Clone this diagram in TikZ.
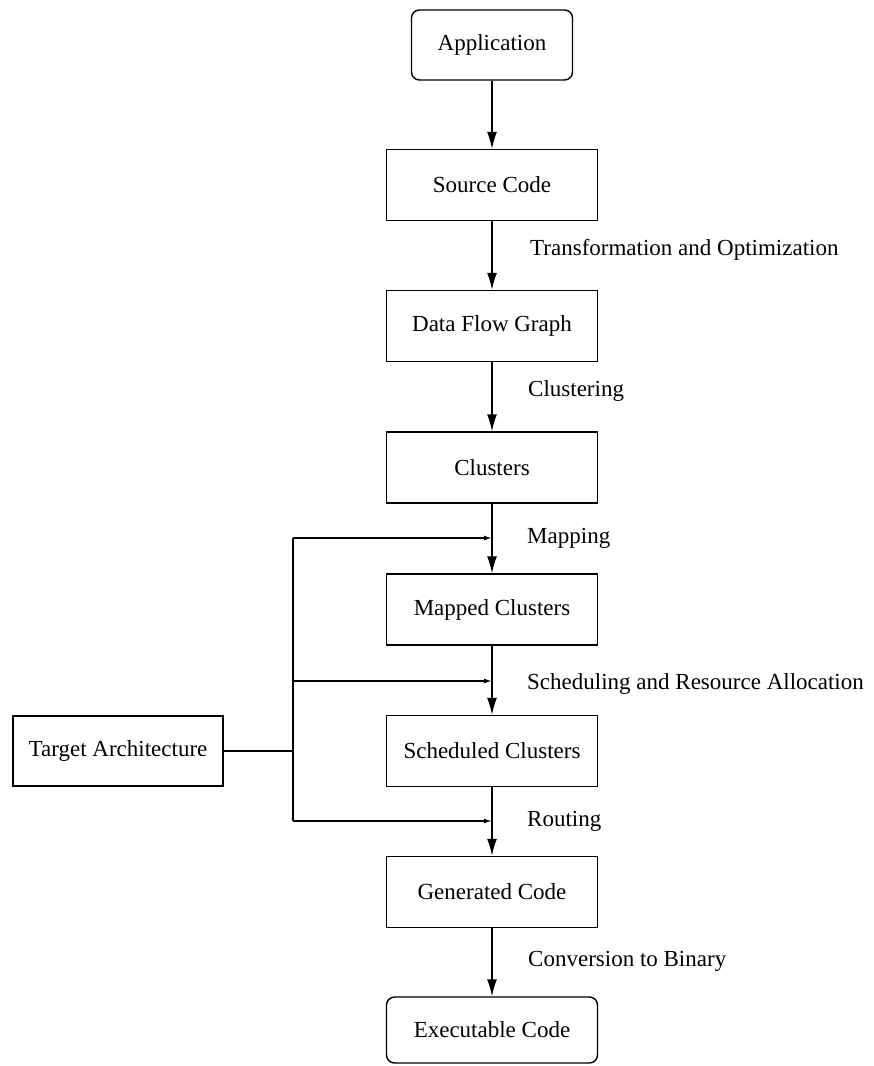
\documentclass[tikz,border=0pt]{standalone}
\usepackage{fontspec}
\setmainfont{Liberation Serif}
\usetikzlibrary{arrows.meta, positioning}

\tikzset{
  stage/.style={draw, line width=1.4pt, minimum width=211pt, minimum height=71pt,
    inner sep=0pt, font=\fontsize{23}{27}\selectfont},
  term/.style={stage, rounded corners=8pt},
  lbl/.style={anchor=west, inner sep=0pt, font=\fontsize{23}{27}\selectfont},
  flow/.style={line width=1.5pt, -{Latex[length=17pt,width=10pt]}},
  feed/.style={line width=1.5pt, -{Latex[length=8pt,width=5pt]}},
  bus/.style={line width=1.5pt}
}

\begin{document}
\begin{tikzpicture}[x=1pt, y=-1pt]
  \useasboundingbox (0,0) rectangle (874,1066);
  % stages of the flow
  \node[term, minimum width=161pt, minimum height=70pt] (app) at (492,45) {Application};
  \node[stage] (src) at (492,185) {Source Code};
  \node[stage] (dfg) at (492,326) {Data Flow Graph};
  \node[stage] (clu) at (492,467.5) {Clusters};
  \node[stage] (map) at (492,609.5) {Mapped Clusters};
  \node[stage] (sch) at (492,751) {Scheduled Clusters};
  \node[stage] (gen) at (492,892) {Generated Code};
  \node[term, minimum height=66pt] (exe) at (492,1030) {Executable Code};
  \node[stage, minimum width=210pt, minimum height=70pt] (arch) at (118,751) {Target Architecture};
  % step labels
  \node[lbl] (trans) at (530,250) {Transformation and Optimization};
  \node[lbl] (clust) at (528,391) {Clustering};
  \node[lbl] (mapping) at (527,538) {Mapping};
  \node[lbl] (sched) at (527,684) {Scheduling and Resource Allocation};
  \node[lbl] (route) at (527,821) {Routing};
  \node[lbl] (conv) at (528,961) {Conversion to Binary};
  % bus from the target architecture
  \coordinate (mapin) at (492,538);
  \coordinate (schin) at (492,681);
  \coordinate (genin) at (492,821);
  \coordinate (bus1) at (293,538);
  \coordinate (bus2) at (293,681);
  \coordinate (bus3) at (293,821);
  \coordinate (busmid) at (293,751);
  \draw[flow] (app) -- (src);
  \draw[flow] (src) -- (dfg);
  \draw[flow] (dfg) -- (clu);
  \draw[flow] (clu) -- (map);
  \draw[flow] (map) -- (sch);
  \draw[flow] (sch) -- (gen);
  \draw[flow] (gen) -- (exe);
  \draw[bus] (arch) -- (busmid)
    (bus1) -- (bus3);
  \draw[feed] (bus1) -- (mapin);
  \draw[feed] (bus2) -- (schin);
  \draw[feed] (bus3) -- (genin);
\end{tikzpicture}
\end{document}
